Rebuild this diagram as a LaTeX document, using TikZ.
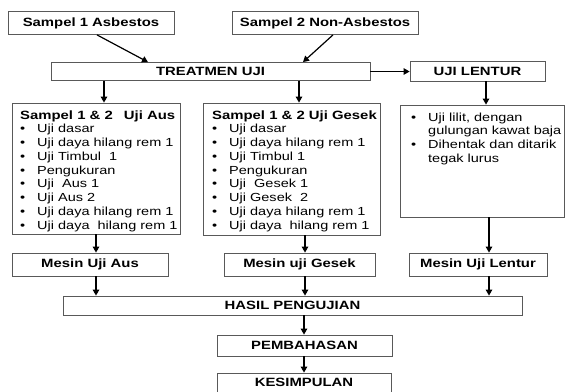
\documentclass[tikz,border=0pt]{standalone}
\usepackage{fontspec}
\setmainfont[FakeStretch=1.24]{Liberation Sans}
\usetikzlibrary{arrows.meta}
\tikzset{
  box/.style={draw=black!65, line width=0.8pt, inner sep=0pt, font=\bfseries\fontsize{12}{14}\selectfont},
  arr/.style={line width=1.2pt, -{Triangle[width=6.5pt,length=6pt]}},
  lst/.style={inner sep=0pt, anchor=base west, font=\fontsize{11.7}{13.75}\selectfont}
}
\newcommand{\bi}[1]{\makebox[17pt][l]{\textbullet}#1\par}
\begin{document}
\begin{tikzpicture}[x=1pt,y=-1pt]
\useasboundingbox (0,0) rectangle (567,391);
% boxes
\node[box, minimum width=166, minimum height=23] (s1) at (91,23) {Sampel 1 Asbestos};
\node[box, minimum width=186, minimum height=23] (s2) at (325,23) {Sampel 2 Non-Asbestos};
\node[box, minimum width=319, minimum height=18] (tr) at (210.5,71.5) {TREATMEN UJI};
\node[box, minimum width=135, minimum height=20] (ul) at (477.5,71) {UJI LENTUR};
\node[box, minimum width=168, minimum height=131] (b1) at (96,168.5) {};
\node[box, minimum width=177, minimum height=132] (b2) at (291.5,169) {};
\node[box, minimum width=164, minimum height=112] (b3) at (482,161) {};
\node[box, minimum width=156, minimum height=23] (m1) at (90,264.5) {Mesin Uji Aus};
\node[box, minimum width=151, minimum height=23] (m2) at (299.5,264.5) {Mesin uji Gesek};
\node[box, minimum width=138, minimum height=23] (m3) at (478,264.5) {Mesin Uji Lentur};
\node[box, minimum width=459, minimum height=19] (h) at (292.5,305.5) {HASIL PENGUJIAN};
\node[box, minimum width=175, minimum height=21] (p) at (304.5,345.5) {PEMBAHASAN};
\node[box, minimum width=174, minimum height=22, label={[font=\bfseries\fontsize{12}{14}\selectfont]center:\raisebox{3pt}{KESIMPULAN}}] (k) at (304,384) {};
% list texts
\node[lst] (t1) at (20,119) {\parbox[t]{160pt}{\parindent0pt
  {\bfseries\fontsize{12}{13.75}\selectfont\makebox[155pt][l]{Sampel 1 \& 2\hfill Uji Aus}}\par
  \bi{Uji dasar}\bi{Uji daya hilang rem 1}\bi{Uji Timbul\ \ 1}\bi{Pengukuran}
  \bi{Uji\ \ Aus 1}\bi{Uji Aus 2}\bi{Uji daya hilang rem 1}\bi{Uji daya\ \ hilang rem 1}}};
\node[lst] (t2) at (212,119) {\parbox[t]{170pt}{\parindent0pt
  {\bfseries\fontsize{12}{13.75}\selectfont Sampel 1 \& 2 Uji Gesek}\par
  \bi{Uji dasar}\bi{Uji daya hilang rem 1}\bi{Uji Timbul 1}\bi{Pengukuran}
  \bi{Uji\ \ Gesek 1}\bi{Uji Gesek\ \ 2}\bi{Uji daya hilang rem 1}\bi{Uji daya\ \ hilang rem 1}}};
\node[lst] (t3) at (411,121) {\parbox[t]{152pt}{\parindent0pt
  \bi{Uji lilit, dengan}\hspace*{17pt}gulungan kawat baja\par
  \bi{Dihentak dan ditarik}\hspace*{17pt}tegak lurus\par}};
% arrow x positions
\coordinate (a1) at (97,0);   \coordinate (a2) at (148,0);
\coordinate (a3) at (333,0);  \coordinate (a4) at (303,0);
\coordinate (x1) at (104,0);  \coordinate (x2) at (299,0);  \coordinate (x3) at (486,0);
\coordinate (y1) at (96,0);   \coordinate (y2) at (305,0);  \coordinate (y3) at (489,0);
\coordinate (z) at (304,0);
% connectors
\draw[arr] (s1.south -| a1) -- (tr.north -| a2);
\draw[arr] (s2.south -| a3) -- (tr.north -| a4);
\draw[arr] (tr.east) -- (ul.west |- tr.east);
\draw[arr] (tr.south -| x1) -- (b1.north -| x1);
\draw[arr] (tr.south -| x2) -- (b2.north -| x2);
\draw[arr] (ul.south -| x3) -- (b3.north -| x3);
\draw[arr] (b1.south -| y1) -- (m1.north -| y1);
\draw[arr] (b2.south -| y2) -- (m2.north -| y2);
\draw[arr] (b3.south -| y3) -- (m3.north -| y3);
\draw[arr] (m1.south -| y1) -- (h.north -| y1);
\draw[arr] (m2.south -| y2) -- (h.north -| y2);
\draw[arr] (m3.south -| y3) -- (h.north -| y3);
\draw[arr] (h.south -| z) -- (p.north -| z);
\draw[arr] (p.south -| z) -- (k.north -| z);
\end{tikzpicture}
\end{document}
